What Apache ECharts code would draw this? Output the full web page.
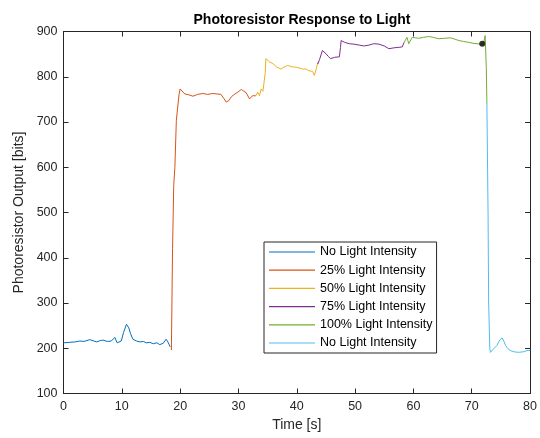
<!DOCTYPE html>
<html>
<head>
<meta charset="utf-8">
<script src="https://cdn.jsdelivr.net/npm/echarts@6/dist/echarts.min.js"></script>
<style>
  html, body { margin: 0; padding: 0; background: #fff; }
  #chart { width: 540px; height: 438px; }
</style>
</head>
<body>
<div id="chart"></div>
<script>
(function () {
  'use strict';

  // [time (s), output (bits)]
  const noLightStart = [[0,212],[1,213],[2,214],[2.8,216],[3.5,215],[4.5,219],[5.2,216],[5.7,214],[6.3,217],[6.8,218],[7.5,215],[8.2,216],[8.8,224],[9.2,212],[9.5,209],[9.9,216],[10.3,235],[10.8,253],[11.2,245],[11.5,232],[11.9,220],[12.5,216],[13.1,214],[13.7,215],[14.2,212],[14.8,213],[15.4,210],[16,212],[16.5,208],[17.1,211],[17.6,220],[17.9,214],[18.3,203]];
  const light25 = [[18.5,196],[18.7,420],[18.9,560],[19.1,600],[19.35,704],[19.8,760],[20.0,773],[20.3,769],[20.8,762],[21.5,760],[22.2,757],[23,761],[23.9,763],[24.7,761],[25.6,763],[26.3,762],[27,761],[27.5,752],[27.9,744],[28.4,748],[28.8,756],[29.4,762],[29.9,766],[30.5,772],[30.9,768],[31.3,765],[31.9,751],[32.4,758],[33.0,758]];
  const light50 = [[33.0,758],[33.3,766],[33.6,758],[33.9,773],[34.2,768],[34.4,766],[34.6,810],[34.7,840],[35.3,833],[35.9,829],[36.5,822],[37.3,817],[37.8,821],[38.4,825],[39.2,822],[39.9,821],[40.5,819],[41.0,817],[41.6,817],[42.1,813],[42.7,812],[43.0,803],[43.3,815],[43.6,832]];
  const light75 = [[43.6,828],[43.9,838],[44.4,858],[45.0,851],[45.4,845],[45.8,840],[46.5,843],[47.3,844],[47.5,865],[47.6,880],[48.2,876],[49.0,873],[49.8,872],[50.7,870],[51.5,868],[52.4,870],[53.2,873],[54.1,872],[55.0,868],[55.8,862],[56.7,864],[57.5,865],[58.1,866],[58.4,876]];
  const light100 = [[58.4,876],[58.9,887],[59.2,873],[59.8,887],[60.4,886],[60.9,885],[61.7,887],[62.6,889],[63.4,887],[64.3,884],[65.3,885],[66.4,886],[67.1,883],[67.8,880],[68.6,878],[69.5,876],[70.2,874],[70.9,873],[71.5,872],[72.0,872],[72.3,891],[72.5,820],[72.6,740]];
  const noLightEnd = [[72.6,740],[72.8,500],[72.9,300],[73.1,200],[73.2,191],[73.7,198],[74.3,206],[74.8,218],[75.2,223],[75.5,216],[75.8,206],[76.2,199],[76.6,195],[77.3,192],[78.0,191],[78.8,192],[79.5,195],[80,195]];
  const marker = [[71.8,873]];

  const seriesNames = ['No Light Intensity', '25% Light Intensity', '50% Light Intensity',
    '75% Light Intensity', '100% Light Intensity', 'No Light Intensity '];
  const seriesData = [noLightStart, light25, light50, light75, light100, noLightEnd];
  const colors = ['#0072BD', '#D95319', '#EDB120', '#7E2F8E', '#77AC30', '#4DBEEE'];

  const font = '"Liberation Sans", Arial, Helvetica, sans-serif';
  const axisColor = '#262626';

  const chart = echarts.init(document.getElementById('chart'), null, { renderer: 'canvas' });

  const series = seriesData.map(function (d, i) {
    return {
      name: seriesNames[i], type: 'line', data: d, symbol: 'none',
      lineStyle: { width: 1, color: colors[i] }, itemStyle: { color: colors[i] },
      z: 2
    };
  });
  series.push({
    type: 'scatter', data: marker, symbolSize: 6,
    itemStyle: { color: '#000' }, z: 3
  });

  const boxAxis = {
    axisLine: { show: true, onZero: false, lineStyle: { color: axisColor, width: 1 } },
    axisTick: { show: true, inside: true, length: 5, lineStyle: { color: axisColor } },
    axisLabel: { show: false },
    splitLine: { show: false }
  };

  chart.setOption({
    animation: false,
    backgroundColor: '#fff',
    color: colors,
    title: {
      text: 'Photoresistor Response to Light',
      left: 297, top: 8, textAlign: 'center',
      textStyle: { fontFamily: font, fontSize: 14, fontWeight: 'bold', color: '#000' }
    },
    legend: {
      orient: 'vertical', left: 264, top: 242,
      data: seriesNames.map(function (n) { return { name: n, icon: 'rect' }; }),
      itemWidth: 46, itemHeight: 1.2, itemGap: 4.2,
      padding: [3, 4, 3, 5],
      borderColor: '#262626', borderWidth: 1, backgroundColor: '#fff',
      textStyle: { fontFamily: font, fontSize: 12.5, color: '#000', lineHeight: 14 }
    },
    grid: { left: 63.5, right: 9, top: 31.5, bottom: 44.5, containLabel: false },
    xAxis: [
      Object.assign({}, boxAxis, {
        type: 'value', min: 0, max: 80, interval: 10, position: 'bottom',
        name: 'Time [s]', nameLocation: 'middle', nameGap: 25,
        nameTextStyle: { fontFamily: font, fontSize: 14, color: axisColor },
        axisLabel: { show: true, fontFamily: font, fontSize: 12.5, color: axisColor, margin: 7 }
      }),
      Object.assign({}, boxAxis, { type: 'value', min: 0, max: 80, interval: 10, position: 'top' })
    ],
    yAxis: [
      Object.assign({}, boxAxis, {
        type: 'value', min: 100, max: 900, interval: 100, position: 'left',
        name: 'Photoresistor Output [bits]', nameLocation: 'middle', nameGap: 36,
        nameTextStyle: { fontFamily: font, fontSize: 14, color: axisColor },
        axisLabel: { show: true, fontFamily: font, fontSize: 12.5, color: axisColor, margin: 6 }
      }),
      Object.assign({}, boxAxis, { type: 'value', min: 100, max: 900, interval: 100, position: 'right' })
    ],
    series: series
  });
})();
</script>
</body>
</html>
